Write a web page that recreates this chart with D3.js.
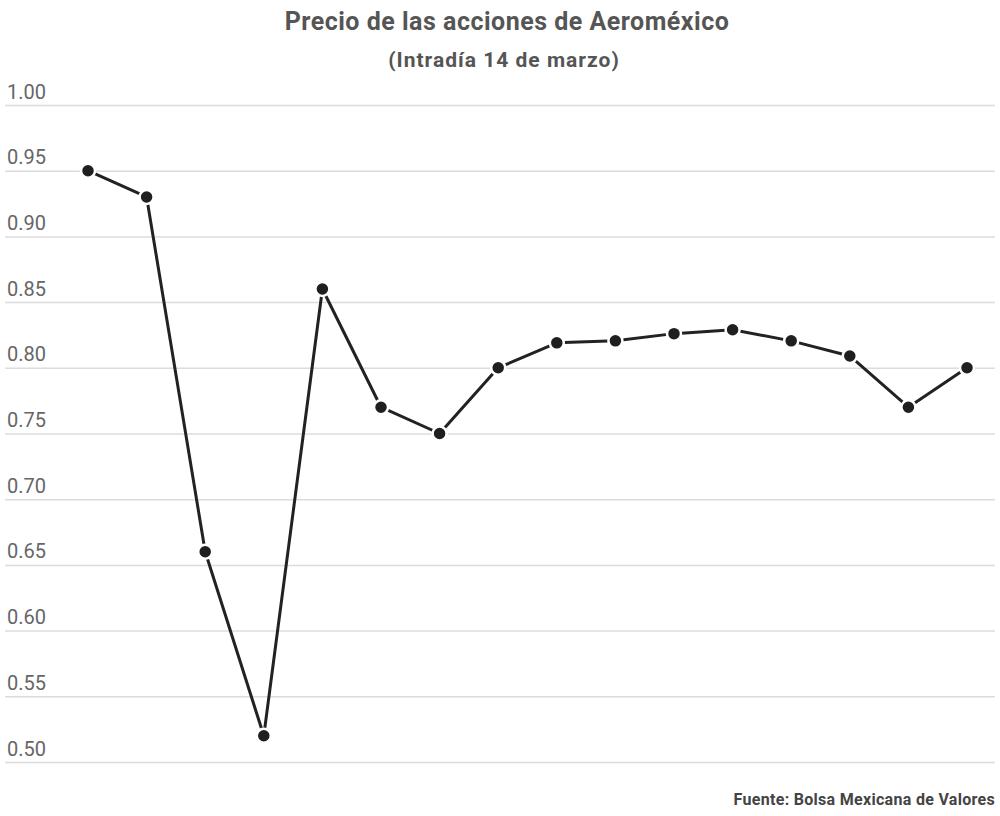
<!DOCTYPE html>
<html>
<head>
<meta charset="utf-8">
<script src="https://cdn.jsdelivr.net/npm/d3@7"></script>
<style>
  body { margin: 0; background: #fff; }
  svg { font-family: Roboto, "Noto Sans", sans-serif; }
</style>
</head>
<body>
<div id="graph"></div>
<script>
// observaciones intradía (sin etiquetas en el eje x)
var puntos = [1, 2, 3, 4, 5, 6, 7, 8, 9, 10, 11, 12, 13, 14, 15, 16];
var precios = [0.95, 0.93, 0.66, 0.52, 0.86, 0.77, 0.75, 0.80, 0.819, 0.8205, 0.826, 0.829, 0.8205, 0.809, 0.77, 0.80];
var yTicks = [0.50, 0.55, 0.60, 0.65, 0.70, 0.75, 0.80, 0.85, 0.90, 0.95, 1.00];

var titulo = "Precio de las acciones de Aeroméxico";
var subtitulo = "(Intradía 14 de marzo)";
var fuente = "Fuente: Bolsa Mexicana de Valores";

var svgWidth = 1000, svgHeight = 816;

var svg = d3.select('#graph')
  .append('svg')
    .attr("width", svgWidth)
    .attr("height", svgHeight);

var x = d3.scalePoint()
    .domain(puntos)
    .range([88, 967]);

var y = d3.scaleLinear()
    .domain([0.5, 1.0])
    .range([762, 105]);

// titles
svg.append("text")
    .attr("x", 507)
    .attr("y", 30)
    .attr("text-anchor", "middle")
    .attr("font-size", 25)
    .attr("font-weight", "bold")
    .attr("letter-spacing", 0.5)
    .attr("fill", "#555")
    .text(titulo);

svg.append("text")
    .attr("x", 504)
    .attr("y", 67)
    .attr("text-anchor", "middle")
    .attr("font-size", 21)
    .attr("font-weight", "bold")
    .attr("letter-spacing", 1)
    .attr("fill", "#555")
    .text(subtitulo);

// grid + labels
var yAxis = d3.axisRight(y)
    .tickValues(yTicks)
    .tickSize(990)
    .tickFormat(d3.format(".2f"));

var gy = svg.append("g")
    .attr("transform", "translate(5,0)")
    .call(yAxis);

gy.select(".domain").remove();
gy.selectAll(".tick line")
    .attr("stroke", "#dcdcdc")
    .attr("stroke-width", 1.5);
gy.selectAll(".tick text")
    .attr("x", 2)
    .attr("dy", -7)
    .attr("font-size", 20)
    .attr("font-family", "Roboto, sans-serif")
    .attr("fill", "#666");

// line
var line = d3.line()
    .x(function(d, i) { return x(puntos[i]); })
    .y(function(d) { return y(d); });

svg.append("path")
    .datum(precios)
    .attr("fill", "none")
    .attr("stroke", "#222")
    .attr("stroke-width", 3)
    .attr("stroke-linejoin", "round")
    .attr("d", line);

svg.selectAll("circle.dot")
    .data(precios)
  .enter().append("circle")
    .attr("class", "dot")
    .attr("cx", function(d, i) { return x(puntos[i]); })
    .attr("cy", function(d) { return y(d); })
    .attr("r", 7)
    .attr("fill", "#1f1f1f")
    .attr("stroke", "#fff")
    .attr("stroke-width", 2.5);

// source
svg.append("text")
    .attr("x", 995)
    .attr("y", 805)
    .attr("text-anchor", "end")
    .attr("font-size", 16)
    .attr("font-weight", "bold")
    .attr("letter-spacing", 0.3)
    .attr("fill", "#444")
    .text(fuente);
</script>
</body>
</html>
